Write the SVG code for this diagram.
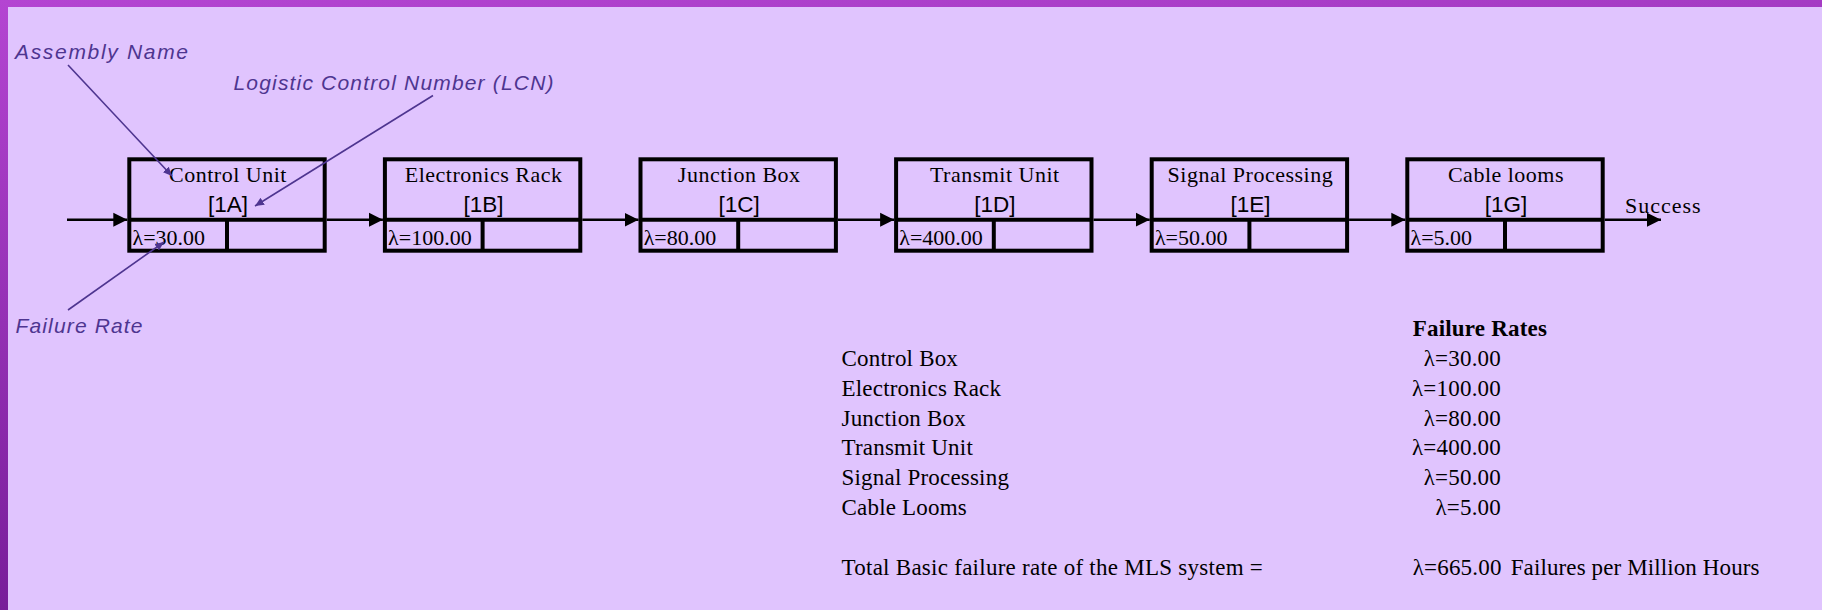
<svg xmlns="http://www.w3.org/2000/svg" width="1822" height="610" viewBox="0 0 1822 610">
  <defs>
    <linearGradient id="frame" x1="0" y1="0" x2="0.25" y2="1">
      <stop offset="0" stop-color="#b445d2"/>
      <stop offset="1" stop-color="#741b96"/>
    </linearGradient>
    <marker id="flowHead" markerUnits="userSpaceOnUse" markerWidth="15" markerHeight="15" viewBox="0 0 15 15" refX="14" refY="7.5" orient="auto">
      <path d="M0,0.5 L14,7.5 L0,14.5 Z" fill="#000"/>
    </marker>
    <marker id="noteHead" markerUnits="userSpaceOnUse" markerWidth="10" markerHeight="10" viewBox="0 0 10 10" refX="9" refY="5" orient="auto">
      <path d="M0,1 L9,5 L0,9 Z" fill="#4e3590"/>
    </marker>
  </defs>
  <style>
    .box { fill: none; stroke: #000; stroke-width: 4; }
    .cell { stroke: #000; stroke-width: 4; }
    .name { font-family: "Liberation Serif", "Times New Roman", serif; font-size: 22px; letter-spacing: 0.5px; text-anchor: middle; fill: #000; }
    .lcn { font-family: "Liberation Sans", Arial, sans-serif; font-size: 22.5px; text-anchor: middle; fill: #000; }
    .rate { font-family: "Liberation Serif", "Times New Roman", serif; font-size: 22px; fill: #000; }
    .flow { stroke: #000; stroke-width: 2.6; fill: none; marker-end: url(#flowHead); }
    .note { font-family: "Liberation Sans", Arial, sans-serif; font-style: italic; font-size: 21px; fill: #4e3590; }
    .noteLine { stroke: #4e3590; stroke-width: 1.6; fill: none; marker-end: url(#noteHead); }
    .tbl { font-family: "Liberation Serif", "Times New Roman", serif; font-size: 23px; letter-spacing: 0.2px; fill: #000; }
    .val { text-anchor: end; }
  </style>

  <!-- page frame and background -->
  <rect x="0" y="0" width="1822" height="610" fill="url(#frame)"/>
  <rect x="8" y="7" width="1814" height="603" fill="#e0c4fe"/>

  <!-- series chain connectors -->
  <g id="connectors">
    <line class="flow" x1="67" y1="219.7" x2="127.3" y2="219.7"/>
    <line class="flow" x1="326.7" y1="219.7" x2="382.9" y2="219.7"/>
    <line class="flow" x1="582.3" y1="219.7" x2="638.5" y2="219.7"/>
    <line class="flow" x1="837.9" y1="219.7" x2="894.1" y2="219.7"/>
    <line class="flow" x1="1093.5" y1="219.7" x2="1149.7" y2="219.7"/>
    <line class="flow" x1="1349.1" y1="219.7" x2="1405.3" y2="219.7"/>
    <line class="flow" x1="1604.7" y1="219.7" x2="1661" y2="219.7"/>
  </g>

  <!-- block 1A -->
  <g id="block-1A">
    <rect class="box" x="129.3" y="159.3" width="195.4" height="91.4"/>
    <line class="cell" x1="129.3" y1="219.7" x2="324.7" y2="219.7"/>
    <line class="cell" x1="227" y1="219.7" x2="227" y2="250.7"/>
    <text class="name" x="228" y="181.7">Control Unit</text>
    <text class="lcn" x="228" y="212">[1A]</text>
    <text class="rate" x="132.5" y="245">λ=30.00</text>
  </g>

  <!-- block 1B -->
  <g id="block-1B">
    <rect class="box" x="384.9" y="159.3" width="195.4" height="91.4"/>
    <line class="cell" x1="384.9" y1="219.7" x2="580.3" y2="219.7"/>
    <line class="cell" x1="482.6" y1="219.7" x2="482.6" y2="250.7"/>
    <text class="name" x="483.6" y="181.7">Electronics Rack</text>
    <text class="lcn" x="483.6" y="212">[1B]</text>
    <text class="rate" x="388.1" y="245">λ=100.00</text>
  </g>

  <!-- block 1C -->
  <g id="block-1C">
    <rect class="box" x="640.5" y="159.3" width="195.4" height="91.4"/>
    <line class="cell" x1="640.5" y1="219.7" x2="835.9" y2="219.7"/>
    <line class="cell" x1="738.2" y1="219.7" x2="738.2" y2="250.7"/>
    <text class="name" x="739.2" y="181.7">Junction Box</text>
    <text class="lcn" x="739.2" y="212">[1C]</text>
    <text class="rate" x="643.7" y="245">λ=80.00</text>
  </g>

  <!-- block 1D -->
  <g id="block-1D">
    <rect class="box" x="896.1" y="159.3" width="195.4" height="91.4"/>
    <line class="cell" x1="896.1" y1="219.7" x2="1091.5" y2="219.7"/>
    <line class="cell" x1="993.8" y1="219.7" x2="993.8" y2="250.7"/>
    <text class="name" x="994.8" y="181.7">Transmit Unit</text>
    <text class="lcn" x="994.8" y="212">[1D]</text>
    <text class="rate" x="899.3" y="245">λ=400.00</text>
  </g>

  <!-- block 1E -->
  <g id="block-1E">
    <rect class="box" x="1151.7" y="159.3" width="195.4" height="91.4"/>
    <line class="cell" x1="1151.7" y1="219.7" x2="1347.1" y2="219.7"/>
    <line class="cell" x1="1249.4" y1="219.7" x2="1249.4" y2="250.7"/>
    <text class="name" x="1250.4" y="181.7">Signal Processing</text>
    <text class="lcn" x="1250.4" y="212">[1E]</text>
    <text class="rate" x="1154.9" y="245">λ=50.00</text>
  </g>

  <!-- block 1G -->
  <g id="block-1G">
    <rect class="box" x="1407.3" y="159.3" width="195.4" height="91.4"/>
    <line class="cell" x1="1407.3" y1="219.7" x2="1602.7" y2="219.7"/>
    <line class="cell" x1="1505" y1="219.7" x2="1505" y2="250.7"/>
    <text class="name" x="1506" y="181.7">Cable looms</text>
    <text class="lcn" x="1506" y="212">[1G]</text>
    <text class="rate" x="1410.5" y="245">λ=5.00</text>
  </g>

  <!-- chain end label -->
  <g id="success">
    <text class="rate" x="1625" y="212.7" letter-spacing="1">Success</text>
  </g>

  <!-- key annotations -->
  <g id="annotations">
    <text class="note" x="15" y="59" textLength="173" lengthAdjust="spacing">Assembly Name</text>
    <text class="note" x="233.5" y="90" textLength="320" lengthAdjust="spacing">Logistic Control Number (LCN)</text>
    <text class="note" x="15.5" y="333" textLength="127" lengthAdjust="spacing">Failure Rate</text>
    <line class="noteLine" x1="68" y1="65" x2="172" y2="176"/>
    <line class="noteLine" x1="433" y1="95.5" x2="255" y2="206"/>
    <line class="noteLine" x1="68" y1="310" x2="164" y2="242"/>
  </g>

  <!-- failure rate summary table -->
  <g id="summary">
    <text class="tbl" x="1412.7" y="336" font-weight="bold" letter-spacing="0">Failure Rates</text>
    <text class="tbl" x="841.5" y="366">Control Box</text>
    <text class="tbl" x="841.5" y="395.5">Electronics Rack</text>
    <text class="tbl" x="841.5" y="425.5">Junction Box</text>
    <text class="tbl" x="841.5" y="455">Transmit Unit</text>
    <text class="tbl" x="841.5" y="485">Signal Processing</text>
    <text class="tbl" x="841.5" y="515">Cable Looms</text>
    <text class="tbl val" x="1501" y="366">λ=30.00</text>
    <text class="tbl val" x="1501" y="395.5">λ=100.00</text>
    <text class="tbl val" x="1501" y="425.5">λ=80.00</text>
    <text class="tbl val" x="1501" y="455">λ=400.00</text>
    <text class="tbl val" x="1501" y="485">λ=50.00</text>
    <text class="tbl val" x="1501" y="515">λ=5.00</text>
    <text class="tbl" x="841.5" y="575" textLength="421.5" lengthAdjust="spacing">Total Basic failure rate of the MLS system =</text>
    <text class="tbl" x="1412.7" y="575">λ=665.00</text>
    <text class="tbl" x="1510.7" y="575" textLength="249" lengthAdjust="spacing">Failures per Million Hours</text>
  </g>
</svg>
